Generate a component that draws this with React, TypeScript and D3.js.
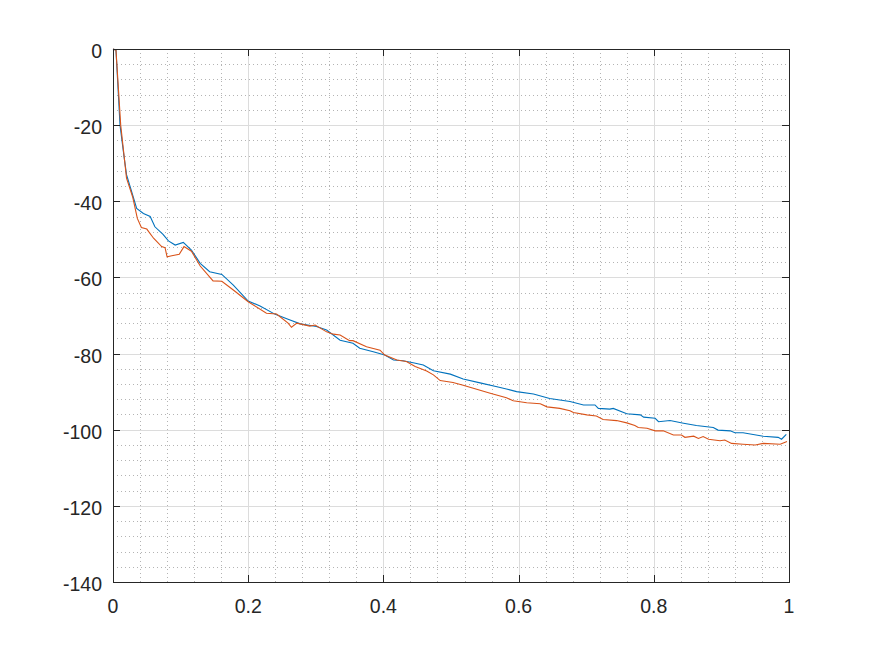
import React, { useEffect, useRef } from 'react';
import * as d3 from 'd3';

// values
const blueX = [0, 0.0044, 0.0104, 0.016, 0.02, 0.0276, 0.035, 0.045, 0.055, 0.062, 0.074, 0.082, 0.092, 0.104, 0.116, 0.129,
  0.143, 0.161, 0.178, 0.2, 0.2175, 0.24, 0.259, 0.277, 0.301, 0.316, 0.336, 0.355, 0.365, 0.385, 0.402, 0.415, 0.429, 0.444,
  0.459, 0.474, 0.499, 0.518, 0.543, 0.568, 0.582, 0.597, 0.622, 0.646, 0.676, 0.696, 0.713, 0.718, 0.735, 0.74, 0.76, 0.78,
  0.785, 0.802, 0.807, 0.824, 0.844, 0.863, 0.888, 0.895, 0.913, 0.92, 0.932, 0.962, 0.984, 0.989, 0.996];
const blueY = [0, -0.3, -20, -27.8, -33, -37.5, -41.9, -43.2, -44, -46.7, -48.7, -50.4, -51.5, -50.8, -52.8, -56.3,
  -58.5, -59.2, -62, -66.2, -67.5, -69.7, -71, -72.2, -72.9, -73.8, -76.5, -77.3, -78.6, -79.5, -80.4, -81.7, -81.9, -82.4,
  -83, -84.5, -85.4, -86.7, -87.7, -88.7, -89.3, -90, -90.6, -91.8, -92.6, -93.5, -93.5, -94.4, -94.6, -94.4, -95.8, -96.1,
  -96.7, -97, -97.9, -97.6, -98.3, -98.9, -99.4, -100.1, -100.3, -100.8, -100.8, -101.7, -102, -102.5, -101.2];

const redX = [0, 0.0044, 0.0114, 0.02, 0.029, 0.036, 0.042, 0.05, 0.06, 0.072, 0.077, 0.08, 0.087, 0.098, 0.105, 0.116, 0.129,
  0.148, 0.161, 0.178, 0.2, 0.227, 0.242, 0.259, 0.264, 0.272, 0.291, 0.299, 0.316, 0.326, 0.336, 0.35, 0.355, 0.375, 0.395,
  0.402, 0.42, 0.434, 0.447, 0.464, 0.474, 0.484, 0.503, 0.518, 0.533, 0.548, 0.558, 0.582, 0.592, 0.612, 0.632, 0.642, 0.661,
  0.676, 0.681, 0.701, 0.715, 0.725, 0.745, 0.76, 0.772, 0.777, 0.79, 0.802, 0.814, 0.829, 0.841, 0.846, 0.859, 0.866, 0.873,
  0.881, 0.898, 0.905, 0.915, 0.932, 0.95, 0.962, 0.987, 0.997];
const redY = [0, -0.3, -20, -33.9, -38.8, -44.5, -46.9, -47.3, -49.7, -51.9, -52.2, -54.6, -54.3, -53.9, -51.9, -53.1, -57,
  -60.9, -61, -63.3, -66.4, -69.4, -69.6, -72, -73.1, -72, -72.8, -72.5, -74.3, -74.9, -75.1, -76.6, -76.6, -78.2, -79.1,
  -80.4, -81.7, -82.1, -83.4, -84.6, -85.6, -87.1, -87.6, -88.3, -89.1, -89.9, -90.4, -91.6, -92.4, -92.9, -93.2, -94, -94.4,
  -95, -95.5, -96.1, -96.4, -97.3, -97.6, -98.2, -98.9, -99.4, -99.6, -100.3, -100.3, -101.4, -101.4, -102, -101.7, -102.3,
  -101.8, -102.5, -102.9, -102.7, -103.6, -103.8, -104, -103.6, -103.8, -103.1];

const xTicks = [0, 0.2, 0.4, 0.6, 0.8, 1];
const yTicks = [0, -20, -40, -60, -80, -100, -120, -140];

const W = 872, H = 654;
const M = { left: 113, top: 49, right: 789, bottom: 582 };

const App = () => {
  const ref = useRef<SVGSVGElement>(null);

  useEffect(() => {
    const svg = d3.select(ref.current);
    svg.selectAll('*').remove();

    const x = d3.scaleLinear().domain([0, 1]).range([M.left, M.right]);
    const y = d3.scaleLinear().domain([-140, 0]).range([M.bottom, M.top]);

    svg.append('rect').attr('width', W).attr('height', H).attr('fill', '#fff');

    // minor grid (dotted)
    const minorX = d3.range(0, 1.0001, 0.04).filter(v => !xTicks.some(t => Math.abs(t - v) < 1e-6));
    const minorY = d3.range(-140, 0.001, 4).filter(v => !yTicks.some(t => Math.abs(t - v) < 1e-6));
    const g = svg.append('g');
    g.selectAll('.mx').data(minorX).enter().append('line')
      .attr('x1', d => Math.round(x(d)) + 0.5).attr('x2', d => Math.round(x(d)) + 0.5)
      .attr('y1', M.top).attr('y2', M.bottom)
      .attr('stroke', '#b4b4b4').attr('stroke-dasharray', '1,3');
    g.selectAll('.my').data(minorY).enter().append('line')
      .attr('y1', d => Math.round(y(d)) + 0.5).attr('y2', d => Math.round(y(d)) + 0.5)
      .attr('x1', M.left).attr('x2', M.right)
      .attr('stroke', '#b4b4b4').attr('stroke-dasharray', '1,3');

    // major grid
    g.selectAll('.gx').data(xTicks).enter().append('line')
      .attr('x1', d => Math.round(x(d)) + 0.5).attr('x2', d => Math.round(x(d)) + 0.5)
      .attr('y1', M.top).attr('y2', M.bottom)
      .attr('stroke', '#dcdcdc');
    g.selectAll('.gy').data(yTicks).enter().append('line')
      .attr('y1', d => Math.round(y(d)) + 0.5).attr('y2', d => Math.round(y(d)) + 0.5)
      .attr('x1', M.left).attr('x2', M.right)
      .attr('stroke', '#dcdcdc');

    // data lines
    const line = d3.line<[number, number]>().x(d => x(d[0])).y(d => y(d[1]));
    svg.append('path').datum(d3.zip(blueX, blueY) as [number, number][])
      .attr('d', line).attr('fill', 'none').attr('stroke', '#0072bd').attr('stroke-width', 1.1);
    svg.append('path').datum(d3.zip(redX, redY) as [number, number][])
      .attr('d', line).attr('fill', 'none').attr('stroke', '#d95319').attr('stroke-width', 1.1);

    // box and inside ticks
    const axis = svg.append('g').attr('stroke', '#262626').attr('fill', 'none');
    axis.append('rect')
      .attr('x', M.left + 0.5).attr('y', M.top + 0.5)
      .attr('width', M.right - M.left).attr('height', M.bottom - M.top);
    const tl = 7;
    xTicks.forEach(t => {
      const px = Math.round(x(t)) + 0.5;
      axis.append('line').attr('x1', px).attr('x2', px).attr('y1', M.bottom).attr('y2', M.bottom - tl);
      axis.append('line').attr('x1', px).attr('x2', px).attr('y1', M.top).attr('y2', M.top + tl);
    });
    yTicks.forEach(t => {
      const py = Math.round(y(t)) + 0.5;
      axis.append('line').attr('y1', py).attr('y2', py).attr('x1', M.left).attr('x2', M.left + tl);
      axis.append('line').attr('y1', py).attr('y2', py).attr('x1', M.right).attr('x2', M.right - tl);
    });

    const font = 'Liberation Sans, Arial, Helvetica, sans-serif';
    svg.append('g').selectAll('text').data(xTicks).enter().append('text')
      .attr('x', d => x(d)).attr('y', M.bottom + 31)
      .attr('text-anchor', 'middle')
      .attr('font-family', font).attr('font-size', 19.5).attr('fill', '#262626')
      .text(d => String(d));
    svg.append('g').selectAll('text').data(yTicks).enter().append('text')
      .attr('x', M.left - 11).attr('y', d => y(d) + 9)
      .attr('text-anchor', 'end')
      .attr('font-family', font).attr('font-size', 19.5).attr('fill', '#262626')
      .text(d => String(d));
  }, []);

  return (
    <svg ref={ref} width={W} height={H} style={{ position: 'absolute', left: 0, top: 0 }} />
  );
};

export default App;
